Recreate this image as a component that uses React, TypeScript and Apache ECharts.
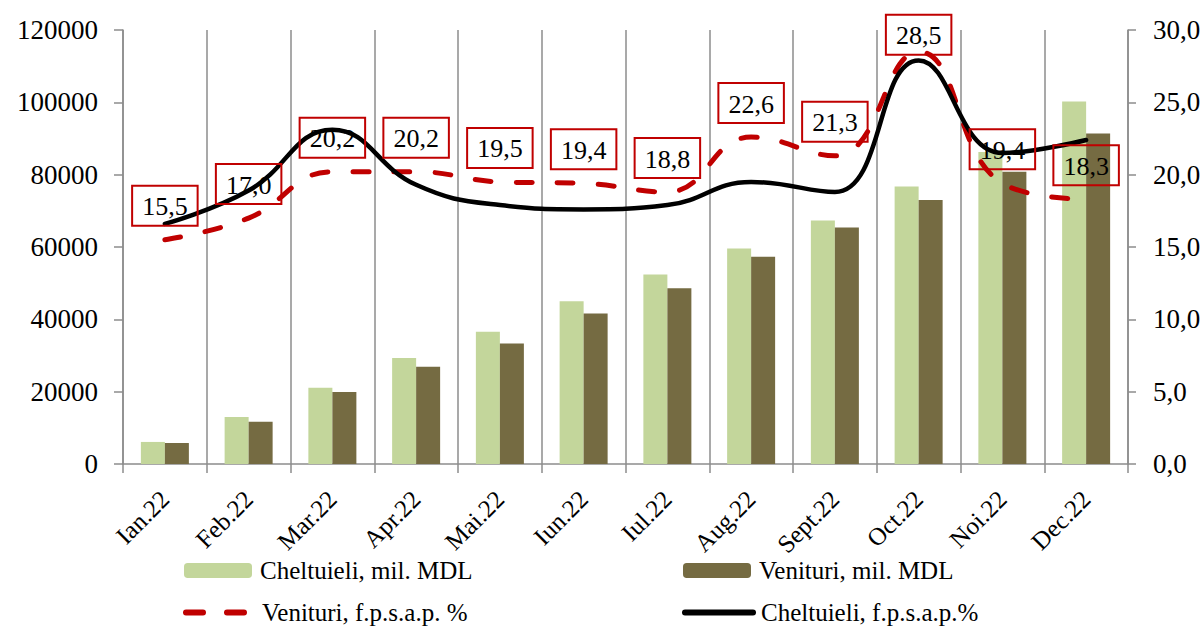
import React, { useEffect, useRef } from "react";
import * as echarts from "echarts";

const categories = ["Ian.22", "Feb.22", "Mar.22", "Apr.22", "Mai.22", "Iun.22", "Iul.22", "Aug.22", "Sept.22", "Oct.22", "Noi.22", "Dec.22"];
const cheltuieliMil = [6100, 13000, 21100, 29300, 36600, 45000, 52400, 59600, 67300, 76700, 86300, 100200];
const venituriMil = [5800, 11700, 19900, 26900, 33300, 41600, 48600, 57300, 65400, 73000, 80800, 91400];
const venituriPct = [15.5, 17.0, 20.2, 20.2, 19.5, 19.4, 18.8, 22.6, 21.3, 28.5, 19.4, 18.3];
const cheltuieliPct = [16.6, 18.9, 23.1, 19.3, 17.9, 17.6, 17.9, 19.5, 18.8, 27.9, 21.5, 22.4];
const leftTicks = { min: 0, max: 120000, interval: 20000 };
const rightTicks = { min: 0, max: 30, interval: 5 };

const NAMES = ["Cheltuieli, mil. MDL", "Venituri, mil. MDL", "Venituri, f.p.s.a.p. %", "Cheltuieli, f.p.s.a.p.%"];
const RED = "#C00000";
const GRAY = "#8C8C8C";
const SERIF = "Liberation Serif";
const fmt = (v: number) => v.toFixed(1).replace(".", ",");

export default function App() {
  const ref = useRef<HTMLDivElement>(null);
  useEffect(() => {
    if (!ref.current) return;
    const chart = echarts.init(ref.current, undefined, { renderer: "svg" });
    const legendText = { fontFamily: SERIF, fontSize: 25, color: "#000", padding: [0, 0, 0, 3] };
    const mkLegend = (name: string, left: number, top: number, line?: any) => ({
      data: [name],
      left,
      top,
      itemWidth: 68,
      itemHeight: 15,
      itemGap: 0,
      textStyle: legendText,
      padding: 0,
      ...(line ? { lineStyle: line, itemStyle: { opacity: 0 } } : {}),
    });
    chart.setOption({
      animation: false,
      backgroundColor: "#fff",
      grid: { left: 123, right: 76, top: 30, bottom: 162, containLabel: false },
      legend: [
        mkLegend(NAMES[0], 184, 558),
        mkLegend(NAMES[1], 683, 558),
        mkLegend(NAMES[2], 183, 600, { width: 6, type: [17, 24], cap: "round" }),
        mkLegend(NAMES[3], 682, 600, { width: 6, cap: "round" }),
      ],
      xAxis: {
        type: "category",
        data: categories,
        boundaryGap: true,
        axisLine: { lineStyle: { color: GRAY, width: 1.5 } },
        axisTick: { show: true, length: 9, interval: 0, lineStyle: { color: GRAY, width: 1.5 } },
        splitLine: { show: true, interval: 0, lineStyle: { color: GRAY, width: 1.5 } },
        axisLabel: { rotate: 45, interval: 0, margin: 31, fontFamily: SERIF, fontSize: 25, color: "#000" },
      },
      yAxis: [
        {
          type: "value",
          position: "left",
          ...leftTicks,
          axisLine: { show: true, lineStyle: { color: GRAY, width: 1.5 } },
          axisTick: { show: true, length: 9, lineStyle: { color: GRAY, width: 1.5 } },
          splitLine: { show: false },
          axisLabel: { margin: 25, fontFamily: SERIF, fontSize: 27, color: "#000", formatter: (v: number) => String(v) },
        },
        {
          type: "value",
          position: "right",
          ...rightTicks,
          axisLine: { show: true, lineStyle: { color: GRAY, width: 1.5 } },
          axisTick: { show: true, length: 8, lineStyle: { color: GRAY, width: 1.5 } },
          splitLine: { show: false },
          axisLabel: { margin: 25, fontFamily: SERIF, fontSize: 27, color: "#000", formatter: (v: number) => fmt(v) },
        },
      ],
      series: [
        {
          name: NAMES[0],
          type: "bar",
          data: cheltuieliMil,
          barWidth: 24,
          barGap: "0%",
          itemStyle: { color: "#C3D69B" },
          z: 2,
        },
        {
          name: NAMES[1],
          type: "bar",
          data: venituriMil,
          barWidth: 24,
          barGap: "0%",
          itemStyle: { color: "#756B42" },
          z: 2,
        },
        {
          name: NAMES[2],
          type: "line",
          yAxisIndex: 1,
          smooth: 0.45,
          symbol: "none",
          data: venituriPct,
          itemStyle: { color: RED },
          lineStyle: { color: RED, width: 5, type: [16, 25], cap: "round" },
          z: 4,
        },
        {
          name: "labels",
          type: "line",
          yAxisIndex: 1,
          symbol: "circle",
          symbolSize: 0.01,
          showSymbol: true,
          data: venituriPct.map((v, i) => (i === 9 ? { value: v, label: { distance: -3 } } : v)),
          itemStyle: { color: "rgba(0,0,0,0)" },
          lineStyle: { opacity: 0, width: 0 },
          label: {
            show: true,
            position: "top",
            distance: 14,
            formatter: (p: any) => fmt(p.value),
            fontFamily: SERIF,
            fontSize: 26,
            color: "#000",
            borderColor: RED,
            borderWidth: 1,
            padding: [8, 10, 6, 10],
            backgroundColor: "transparent",
          },
          silent: true,
          z: 6,
        },
        {
          name: NAMES[3],
          type: "line",
          yAxisIndex: 1,
          smooth: 0.45,
          symbol: "none",
          data: cheltuieliPct,
          itemStyle: { color: "#000" },
          lineStyle: { color: "#000", width: 4.5, cap: "round" },
          z: 5,
        },
      ],
    });
    return () => chart.dispose();
  }, []);
  return <div ref={ref} style={{ width: 1204, height: 626, position: "absolute", left: 0, top: 0 }} />;
}
